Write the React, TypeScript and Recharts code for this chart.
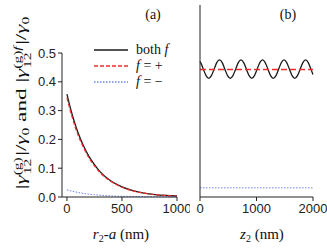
import * as React from 'react';
import { LineChart, Line, XAxis, YAxis, Legend, ReferenceLine } from 'recharts';

// (a) separation r2 - a in nm
const sepNm = [0, 25, 50, 75, 100, 150, 200, 250, 300, 400, 500, 600, 700, 800, 900, 1000];
const bothSep = [0.357, 0.318, 0.283, 0.252, 0.224, 0.178, 0.141, 0.112, 0.088, 0.0555, 0.035, 0.022, 0.0138, 0.0086, 0.0054, 0.0034];
const plusSep = [0.345, 0.307, 0.274, 0.243, 0.216, 0.172, 0.136, 0.108, 0.085, 0.054, 0.034, 0.021, 0.0134, 0.0083, 0.0052, 0.0033];
const minusSep = [0.025, 0.0222, 0.0198, 0.0176, 0.0157, 0.0125, 0.0099, 0.0078, 0.0062, 0.0039, 0.0024, 0.0015, 0.001, 0.0006, 0.0004, 0.0002];

// (b) z2 in nm
const zNm = [0, 12, 59, 107, 155, 202, 250, 297, 345, 393, 440, 488, 536, 583, 631, 678, 726, 773, 821, 869, 916, 964, 1011, 1059, 1107, 1154, 1202, 1249, 1297, 1345, 1392, 1440, 1487, 1535, 1583, 1630, 1678, 1725, 1773, 1821, 1868, 1916, 1963, 2000];
const bothZ = [0.353, 0.35, 0.333, 0.316, 0.309, 0.316, 0.333, 0.35, 0.357, 0.35, 0.333, 0.316, 0.309, 0.316, 0.333, 0.35, 0.357, 0.35, 0.333, 0.316, 0.309, 0.316, 0.333, 0.35, 0.357, 0.35, 0.333, 0.316, 0.309, 0.316, 0.333, 0.35, 0.357, 0.35, 0.333, 0.316, 0.309, 0.316, 0.333, 0.35, 0.357, 0.35, 0.333, 0.319];
// flat f=+ and f=- levels, given at both ends of the z range
const zFlat = [0, 2000];
const plusZ = [0.332, 0.332];
const minusZ = [0.024, 0.024];

const yTicks = [0, 0.1, 0.2, 0.3, 0.4, 0.5];
const sepTicks = [0, 500, 1000];
const zTicks = [0, 1000, 2000];

const sans = '"Liberation Sans", Arial, sans-serif';
const serif = '"Liberation Serif", "Times New Roman", serif';
const axisColor = '#222';
const red = '#f52a2a';
const blue = '#6f82f2';

const sepData = sepNm.map((x, i) => ({ x, both: bothSep[i], plus: plusSep[i], minus: minusSep[i] }));
const zData = zNm.map((z, i) => ({ z, both: bothZ[i] }));
const plusSegment = zFlat.map((z, i) => ({ x: z, y: plusZ[i] }));
const minusSegment = zFlat.map((z, i) => ({ x: z, y: minusZ[i] }));

const tickStyle = { fill: '#222', fontSize: 13, fontFamily: sans };

function LegendBox() {
  const rows = [
    { stroke: '#1a1a1a', dash: undefined, label: <>both <i>f</i></> },
    { stroke: red, dash: '4 2', label: <><i>f</i> = +</> },
    { stroke: blue, dash: '1.5 1.5', label: <><i>f</i> = −</> },
  ];
  return (
    <div style={{ fontFamily: serif, fontSize: 14, color: '#111' }}>
      {rows.map((r, i) => (
        <div key={i} style={{ display: 'flex', alignItems: 'center', height: 16 }}>
          <svg width={36} height={8}>
            <line x1={0} y1={4} x2={34} y2={4} stroke={r.stroke} strokeWidth={1.3} strokeDasharray={r.dash} />
          </svg>
          <span style={{ marginLeft: 6 }}>{r.label}</span>
        </div>
      ))}
    </div>
  );
}

function YTitle() {
  return (
    <text
      transform="translate(26,103) rotate(-90) scale(1.55,1)"
      textAnchor="middle"
      fontFamily={serif}
      fontSize={15}
      fill="#111"
    >
      |<tspan fontStyle="italic">γ</tspan>
      <tspan fontSize={10} dy={-5}>(g)</tspan>
      <tspan fontSize={10} dx={-11} dy={10}>12</tspan>
      <tspan dx={2} dy={-5}>|/</tspan>
      <tspan fontStyle="italic">γ</tspan>
      <tspan fontSize={10} dy={3}>0</tspan>
      <tspan dy={-3}> and |</tspan>
      <tspan fontStyle="italic">γ</tspan>
      <tspan fontSize={10} dy={-5}>(g)</tspan>
      <tspan fontSize={10} fontStyle="italic">f</tspan>
      <tspan fontSize={10} dx={-14} dy={10}>12</tspan>
      <tspan dx={5} dy={-5}>|/</tspan>
      <tspan fontStyle="italic">γ</tspan>
      <tspan fontSize={10} dy={3}>0</tspan>
    </text>
  );
}

export default function App() {
  return (
    <div style={{ position: 'absolute', left: 0, top: 0, width: 327, height: 249, background: '#fff' }}>
      <div style={{ position: 'absolute', left: 0, top: 0 }}>
        <LineChart width={190} height={249} data={sepData} margin={{ top: 5, right: 13, bottom: 0, left: 0 }}>
          <XAxis
            dataKey="x"
            type="number"
            domain={[-45, 1000]}
            ticks={sepTicks}
            height={52}
            tickSize={4}
            tickMargin={3}
            stroke={axisColor}
            tick={tickStyle}
          />
          <YAxis
            type="number"
            domain={[0, 0.5]}
            ticks={yTicks}
            width={62}
            tickSize={4}
            tickMargin={2}
            stroke={axisColor}
            tick={tickStyle}
            tickFormatter={(v: number) => v.toFixed(1)}
          />
          <Legend
            verticalAlign="top"
            content={() => <LegendBox />}
            wrapperStyle={{ position: 'absolute', left: 94, top: 42, width: 'auto' }}
          />
          <Line dataKey="both" type="monotone" stroke="#1a1a1a" strokeWidth={1.3} dot={false} isAnimationActive={false} />
          <Line dataKey="plus" type="monotone" stroke={red} strokeWidth={1.2} strokeDasharray="4 2" dot={false} isAnimationActive={false} />
          <Line dataKey="minus" type="monotone" stroke={blue} strokeWidth={1} strokeDasharray="1.5 1.5" dot={false} isAnimationActive={false} />
          <YTitle />
          <text x={153} y={19} textAnchor="middle" fontFamily={serif} fontSize={14} fill="#111">(a)</text>
          <text x={121} y={239} textAnchor="middle" fontFamily={serif} fontSize={15} fill="#111">
            <tspan fontStyle="italic">r</tspan>
            <tspan fontSize={10} dy={3}>2</tspan>
            <tspan dy={-3}>-</tspan>
            <tspan fontStyle="italic">a</tspan> (nm)
          </text>
        </LineChart>
      </div>
      <div style={{ position: 'absolute', left: 140, top: 0 }}>
        <LineChart width={187} height={249} data={zData} margin={{ top: 5, right: 14, bottom: 0, left: 0 }}>
          <XAxis
            dataKey="z"
            type="number"
            domain={[0, 2000]}
            ticks={zTicks}
            height={52}
            tickSize={4}
            tickMargin={3}
            stroke={axisColor}
            tick={tickStyle}
          />
          <YAxis
            type="number"
            domain={[0, 0.5]}
            ticks={yTicks}
            width={60}
            tickSize={4}
            stroke={axisColor}
            tick={false}
          />
          <Line dataKey="both" type="monotone" stroke="#1a1a1a" strokeWidth={1.3} dot={false} isAnimationActive={false} />
          <ReferenceLine segment={plusSegment} stroke={red} strokeWidth={1.6} strokeDasharray="6 3" ifOverflow="visible" />
          <ReferenceLine segment={minusSegment} stroke={blue} strokeWidth={1} strokeDasharray="1.5 1.5" />
          <text x={148} y={19} textAnchor="middle" fontFamily={serif} fontSize={14} fill="#111">(b)</text>
          <text x={122} y={239} textAnchor="middle" fontFamily={serif} fontSize={15} fill="#111">
            <tspan fontStyle="italic">z</tspan>
            <tspan fontSize={10} dy={3}>2</tspan>
            <tspan dy={-3}> (nm)</tspan>
          </text>
        </LineChart>
      </div>
    </div>
  );
}
